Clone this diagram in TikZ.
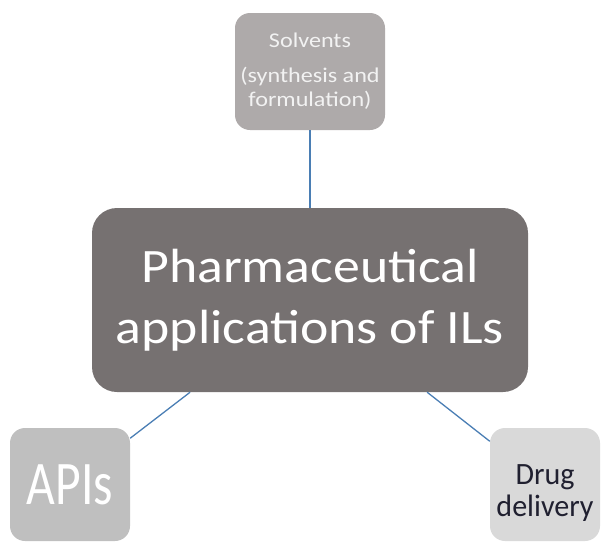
\documentclass[tikz,border=0pt]{standalone}
\usepackage{fontspec}
\setmainfont{Carlito}
\newfontfamily\mainfnt{Carlito}[FakeStretch=1.12]
\newfontfamily\solvfnt{Carlito}[FakeStretch=1.15]
\newfontfamily\apifnt{Carlito}[FakeStretch=0.8]
\newfontfamily\drugfnt{Carlito}[FakeStretch=0.97]
\definecolor{boxdark}{HTML}{767171}
\definecolor{boxmid}{HTML}{AEAAAA}
\definecolor{boxlight}{HTML}{BFBFBF}
\definecolor{boxpale}{HTML}{D9D9D9}
\definecolor{linkblue}{HTML}{4A7EB4}
\definecolor{drugtext}{HTML}{202030}
\begin{document}
\begin{tikzpicture}[x=1pt,y=1pt,
  topic/.style={rectangle,rounded corners=15pt,inner sep=0pt,align=center},
  link/.style={linkblue,line width=1.3pt}]
\useasboundingbox (0,0) rectangle (602,-541);
% centre
\node[topic,rounded corners=25pt,fill=boxdark,text=white,
  minimum width=436pt,minimum height=184pt,
  font=\fontsize{48}{61}\mainfnt] (main) at (310,-300)
  {Pharmaceutical\\applications of ILs};
% the three uses
\node[topic,fill=boxmid,text=white!95!black,
  minimum width=150pt,minimum height=117pt,
  font=\fontsize{21}{24}\solvfnt] (solv) at (310,-71.5)
  {Solvents\\[11pt](synthesis and\\formulation)};
\node[topic,fill=boxlight,text=white,
  minimum width=120pt,minimum height=113pt,
  text height=39pt,text depth=-14pt,
  font=\fontsize{62}{62}\apifnt] (apis) at (70,-484.5) {APIs};
\node[topic,fill=boxpale,text=drugtext,
  minimum width=110pt,minimum height=113pt,
  font=\fontsize{31}{32}\drugfnt] (drug) at (545,-484.5)
  {\rule{0pt}{36pt}Drug\\delivery};
% connectors
\draw[link] (solv) -- (main);
\draw[link] (main) -- (apis);
\draw[link] (main) -- (drug);
\end{tikzpicture}
\end{document}
